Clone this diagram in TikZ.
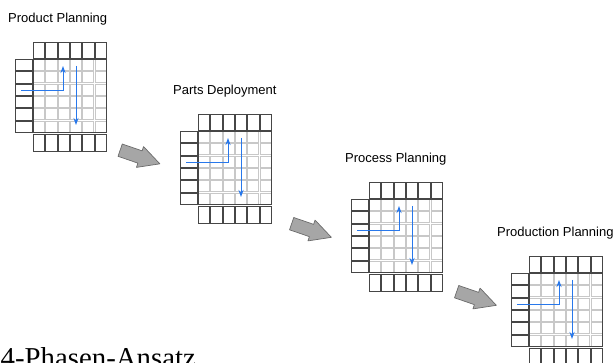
\documentclass[tikz,border=0pt]{standalone}
\usepackage{fontspec}
\newfontfamily\labelfont{Liberation Sans}
\newfontfamily\captionfont{Liberation Serif}
\usetikzlibrary{arrows.meta}
\definecolor{flowblue}{RGB}{40,120,235}
\definecolor{boxgray}{RGB}{70,70,70}
\definecolor{cellgray}{RGB}{200,200,200}
\definecolor{arrowgray}{RGB}{166,166,166}
\tikzset{
    headbox/.style={draw=boxgray, line width=0.9pt, fill=white},
    cell/.style={draw=cellgray, line width=1pt, fill=white},
    gridframe/.style={draw=boxgray, line width=0.8pt},
    flow/.style={draw=flowblue, line width=0.9pt, -{Stealth[length=7pt, width=5pt]}},
    blockarrow/.style={draw=boxgray!80, line width=0.7pt, fill=arrowgray, line join=round},
    phaselabel/.style={anchor=west, inner sep=0pt, font=\labelfont\fontsize{13}{15}\selectfont},
}
\begin{document}
\begin{tikzpicture}[x=1pt, y=-1pt]
    \useasboundingbox (0,0) rectangle (616,363);
    \def\cw{12.3}
    \foreach \n/\gx/\gy/\dx/\txt in {1/33/59/25/Product Planning, 2/198/131/25/Parts Deployment, 3/369/199/24/Process Planning, 4/529/273/32/Production Planning} {
        \node[phaselabel] (title\n) at (\gx-\dx, \gy-40) {\txt};
        \foreach \i in {0,...,5} {
            \foreach \j in {0,...,5}
                \draw[cell] (\gx+\i*\cw+0.6, \gy+\j*\cw+0.6) rectangle ++(\cw-1.2, \cw-1.2);
            \draw[headbox] (\gx+\i*\cw+0.5, \gy-17) rectangle ++(\cw-1, 16.5);
            \draw[headbox] (\gx+\i*\cw+0.5, \gy+75.5) rectangle ++(\cw-1, 16.5);
            \draw[headbox] (\gx-18, \gy+\i*\cw+0.5) rectangle ++(17, \cw-1);
        }
        \draw[gridframe] (\gx, \gy) rectangle ++(6*\cw, 6*\cw);
        % flow through the matrix
        \coordinate (in\n) at (\gx-12, \gy+31.5);
        \coordinate (turn\n) at (\gx+30, \gy+31.5);
        \coordinate (up\n) at (\gx+30, \gy+7);
        \coordinate (top\n) at (\gx+43, \gy+7);
        \coordinate (bot\n) at (\gx+43, \gy+66);
        \draw[flow] (in\n) -- (turn\n) -- (up\n);
        \draw[flow] (top\n) -- (bot\n);
    }
    \foreach \x/\y in {140/157, 311.5/230.5, 476.5/298.5}
        \draw[blockarrow, shift={(\x,\y)}, rotate=-19] (-21,-6.5) -- (0,-6.5) -- (0,-11) -- (21,0) -- (0,11) -- (0,6.5) -- (-21,6.5) -- cycle;
    \node[anchor=base west, inner sep=0pt, font=\captionfont\fontsize{28.8}{32}\selectfont] (caption) at (0.5,367) {4-Phasen-Ansatz};
\end{tikzpicture}
\end{document}
